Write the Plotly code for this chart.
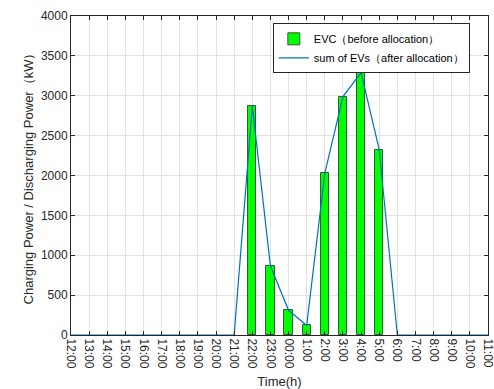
import plotly.graph_objects as go

# Hourly time axis, noon to 11:00 next day
hours = ["12:00", "13:00", "14:00", "15:00", "16:00", "17:00", "18:00", "19:00",
         "20:00", "21:00", "22:00", "23:00", "00:00", "1:00", "2:00", "3:00",
         "4:00", "5:00", "6:00", "7:00", "8:00", "9:00", "10:00", "11:00"]

# EVC charging power before allocation (kW)
evc_before = [0, 0, 0, 0, 0, 0, 0, 0, 0, 0, 2870, 865, 310, 120, 2030, 2990,
              3290, 2325, 0, 0, 0, 0, 0, 0]

# Sum of EV charging power after allocation (kW)
evs_after = [0, 0, 0, 0, 0, 0, 0, 0, 0, 0, 2870, 865, 310, 120, 2030, 2990,
             3290, 2325, 0, 0, 0, 0, 0, 0]

idx = list(range(len(hours)))
bar_x = [i for i, v in zip(idx, evc_before) if v > 0]
bar_y = [v for v in evc_before if v > 0]

font_family = "Liberation Sans, Arial, sans-serif"
axis_color = "#262626"

fig = go.Figure()
fig.add_trace(go.Bar(
    x=bar_x, y=bar_y, width=0.46,
    name="EVC（before allocation）",
    marker=dict(color="#00FF00", line=dict(color="#2f5f2f", width=1)),
))
fig.add_trace(go.Scatter(
    x=idx, y=evs_after, mode="lines",
    name="sum of EVs（after allocation）",
    line=dict(color="#0072BD", width=1.2),
))

fig.update_layout(
    width=494, height=389,
    margin=dict(l=71, r=6, t=16, b=54, autoexpand=False),
    paper_bgcolor="white", plot_bgcolor="white",
    font=dict(family=font_family, size=12, color=axis_color),
    showlegend=True,
    legend=dict(
        x=0.484, y=0.977, xanchor="left", yanchor="top",
        bgcolor="white", bordercolor=axis_color, borderwidth=1,
        font=dict(size=11, color="#000000"),
        itemwidth=30, tracegroupgap=0,
    ),
    bargap=0,
)

fig.update_xaxes(
    range=[0, 23], automargin=False, ticklabeloverflow="allow",
    tickmode="array", tickvals=idx, ticktext=hours, tickangle=90,
    showgrid=True, gridcolor="#e3e3e3", gridwidth=1,
    showline=True, linecolor=axis_color, linewidth=1, mirror="ticks",
    ticks="inside", ticklen=4, tickcolor=axis_color,
    zeroline=False,
    title=dict(text="Time(h)", font=dict(size=13)),
    tickfont=dict(size=12),
)
fig.update_yaxes(
    range=[0, 4000], dtick=500, automargin=False,
    showgrid=True, gridcolor="#e3e3e3", gridwidth=1,
    showline=True, linecolor=axis_color, linewidth=1, mirror="ticks",
    ticks="inside", ticklen=4, tickcolor=axis_color,
    zeroline=False,
    title=dict(text="Charging Power / Discharging Power（kW）", font=dict(size=13), standoff=4),
    tickfont=dict(size=12),
)

fig.write_html("out.html")
